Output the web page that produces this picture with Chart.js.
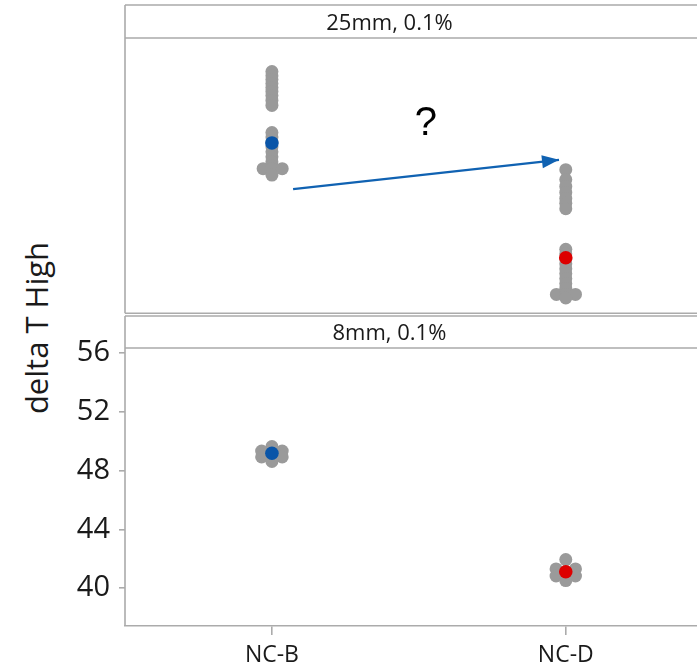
<!DOCTYPE html>
<html><head><meta charset="utf-8">
<script src="https://cdn.jsdelivr.net/npm/chart.js@4.4.1/dist/chart.umd.min.js"></script>
<style>
html,body{margin:0;padding:0;background:#fff;overflow:hidden;width:697px;height:667px;position:relative}
canvas{position:absolute;left:0}
#c1{top:0}
#c2{top:310px}
#ylab{position:absolute;left:36px;top:328px;transform:translate(-50%,-50%) rotate(-90deg);font:31px "Open Sans";color:#1a1a1a;white-space:nowrap}
</style></head><body>
<div id="ylab">delta T High</div>
<canvas id="c1" width="720" height="320"></canvas>
<canvas id="c2" width="720" height="357"></canvas>
<script>
// ---- data ----
const categories = ['NC-B', 'NC-D'];
const panelTitles = ['25mm, 0.1%', '8mm, 0.1%'];
const yTickValues = [40, 44, 48, 52, 56];
const yRange = [37.43, 56.34];

// panel 1 (25mm, 0.1%)
const top_NCB = [54.03, 53.75, 53.48, 53.21, 52.94, 52.67, 52.39, 52.05, 51.71,
                 49.84, 49.54, 49.20, 48.86, 48.52, 48.18, 47.84, 47.57, 47.36, 47.36, 47.36, 46.92];
const top_NCB_jitter = [0, 0, 0, 0, 0, 0, 0, 0, 0,
                        0, 0, 0, 0, 0, 0, 0, 0, -0.03, 0, 0.035, 0];
const top_NCD = [47.29, 46.61, 46.14, 45.73, 45.32, 44.98, 44.61,
                 41.82, 41.51, 41.17, 40.83, 40.49, 40.15, 39.81, 39.47, 39.13, 38.72, 38.72, 38.72, 38.48];
const top_NCD_jitter = [0, 0, 0, 0, 0, 0, 0,
                        0, 0, 0, 0, 0, 0, 0, 0, 0, -0.032, 0, 0.033, 0];
const top_means = [49.13, 41.24];

// panel 2 (8mm, 0.1%)
const bot_NCB = [49.64, 49.33, 49.33, 48.93, 48.93, 48.62];
const bot_NCB_jitter = [0, -0.035, 0.035, -0.035, 0.035, 0];
const bot_NCD = [41.95, 41.31, 41.31, 40.83, 40.83, 40.52];
const bot_NCD_jitter = [0, -0.033, 0.033, -0.033, 0.033, 0];
const bot_means = [49.18, 41.12];

// annotation (data units of panel 1)
const arrowFrom = [1.072, 45.95];
const arrowTo = [1.977, 47.97];
const questionAt = [1.524, 50.42];

// ---- styles ----
const GRAY = '#9a9a9a', BLUE = '#0a55a8', RED = '#dd0000', FRAME = '#ababab', ARROW = '#1062b2', TXT = '#1a1a1a';
const FONT = '"Open Sans", "Noto Sans", sans-serif';

function pts(vals, jit, cat) { return vals.map((v, i) => ({x: cat + jit[i], y: v})); }

const framePlugin = {
  id: 'panelFrame',
  beforeDatasetsDraw(chart, args, o) {
    const {ctx, chartArea: a} = chart;
    ctx.save();
    ctx.strokeStyle = FRAME; ctx.lineWidth = 1.6;
    ctx.beginPath();
    ctx.moveTo(a.left, o.headerTop); ctx.lineTo(chart.width, o.headerTop);
    ctx.moveTo(a.left, a.top); ctx.lineTo(chart.width, a.top);
    ctx.moveTo(a.left, o.headerTop); ctx.lineTo(a.left, a.bottom);
    if (o.bottomLine) { ctx.moveTo(a.left, a.bottom); ctx.lineTo(chart.width, a.bottom); }
    ctx.stroke();
    ctx.fillStyle = TXT; ctx.font = '22px ' + FONT;
    ctx.textAlign = 'center'; ctx.textBaseline = 'middle';
    ctx.fillText(o.title, chart.scales.x.getPixelForValue(1.4), (o.headerTop + a.top) / 2 + 2);
    ctx.restore();
  }
};

const annotPlugin = {
  id: 'annot',
  afterDatasetsDraw(chart) {
    const {ctx, scales: {x, y}} = chart;
    const x0 = x.getPixelForValue(arrowFrom[0]), y0 = y.getPixelForValue(arrowFrom[1]);
    const x1 = x.getPixelForValue(arrowTo[0]), y1 = y.getPixelForValue(arrowTo[1]);
    const ang = Math.atan2(y1 - y0, x1 - x0);
    const L = 17, W = 6.5;
    ctx.save();
    ctx.fillStyle = ARROW;
    ctx.beginPath();
    ctx.moveTo(x1, y1);
    ctx.lineTo(x1 - L * Math.cos(ang) + W * Math.sin(ang), y1 - L * Math.sin(ang) - W * Math.cos(ang));
    ctx.lineTo(x1 - L * Math.cos(ang) - W * Math.sin(ang), y1 - L * Math.sin(ang) + W * Math.cos(ang));
    ctx.closePath(); ctx.fill();
    ctx.fillStyle = '#000'; ctx.font = '40px "Liberation Sans", Arial, sans-serif';
    ctx.textAlign = 'center'; ctx.textBaseline = 'middle';
    ctx.fillText('?', x.getPixelForValue(questionAt[0]), y.getPixelForValue(questionAt[1]));
    ctx.restore();
  }
};

const common = {
  responsive: false, animation: false, devicePixelRatio: 1,
  plugins: {legend: {display: false}, tooltip: {enabled: false}, title: {display: false}},
  events: []
};

function yAxis(showTicks) {
  return {
    min: yRange[0], max: yRange[1],
    afterFit: s => { s.width = 125; },
    afterBuildTicks: s => { s.ticks = yTickValues.map(v => ({value: v})); },
    border: {display: false},
    grid: {display: showTicks, drawOnChartArea: false, drawTicks: true, tickLength: 6, color: FRAME, lineWidth: 1.6},
    ticks: {display: showTicks, color: TXT, font: {family: FONT, size: 29}, padding: 9}
  };
}

new Chart(document.getElementById('c1'), {
  type: 'scatter',
  data: {datasets: [
    {label: 'Mean', data: categories.map((c, i) => ({x: i + 1, y: top_means[i]})), backgroundColor: [BLUE, RED], pointRadius: 6.8, borderWidth: 0, order: 0},
    {label: 'Individual', data: [...pts(top_NCB, top_NCB_jitter, 1), ...pts(top_NCD, top_NCD_jitter, 2)], backgroundColor: GRAY, pointRadius: 6.5, borderWidth: 0, order: 1},
    {label: 'arrow', data: [{x: arrowFrom[0], y: arrowFrom[1]}, {x: arrowTo[0], y: arrowTo[1]}], showLine: true, borderColor: ARROW, borderWidth: 2.2, pointRadius: 0, order: 2}
  ]},
  options: Object.assign({}, common, {
    layout: {padding: {left: 0, right: 7.3, top: 38, bottom: 4}},
    scales: {
      x: {type: 'linear', min: 0.5, max: 2.5, display: false},
      y: yAxis(false)
    },
    plugins: Object.assign({}, common.plugins, {panelFrame: {headerTop: 5, title: panelTitles[0], bottomLine: true}})
  }),
  plugins: [framePlugin, annotPlugin]
});

new Chart(document.getElementById('c2'), {
  type: 'scatter',
  data: {datasets: [
    {label: 'Mean', data: categories.map((c, i) => ({x: i + 1, y: bot_means[i]})), backgroundColor: [BLUE, RED], pointRadius: 6.8, borderWidth: 0, order: 0},
    {label: 'Individual', data: [...pts(bot_NCB, bot_NCB_jitter, 1), ...pts(bot_NCD, bot_NCD_jitter, 2)], backgroundColor: GRAY, pointRadius: 6.5, borderWidth: 0, order: 1}
  ]},
  options: Object.assign({}, common, {
    layout: {padding: {left: 0, right: 7.3, top: 38, bottom: 0}},
    scales: {
      x: {
        type: 'linear', min: 0.5, max: 2.5,
        afterFit: s => { s.height = 41; },
        afterBuildTicks: s => { s.ticks = categories.map((c, i) => ({value: i + 1})); },
        border: {display: true, color: FRAME, width: 1.6},
        grid: {display: true, drawOnChartArea: false, drawTicks: true, tickLength: 9, color: FRAME, lineWidth: 1.6},
        ticks: {color: TXT, font: {family: FONT, size: 23}, padding: 7, maxRotation: 0,
                callback: v => categories[Math.round(v) - 1]}
      },
      y: yAxis(true)
    },
    plugins: Object.assign({}, common.plugins, {panelFrame: {headerTop: 6, title: panelTitles[1], bottomLine: false}})
  }),
  plugins: [framePlugin]
});
</script>
</body></html>
